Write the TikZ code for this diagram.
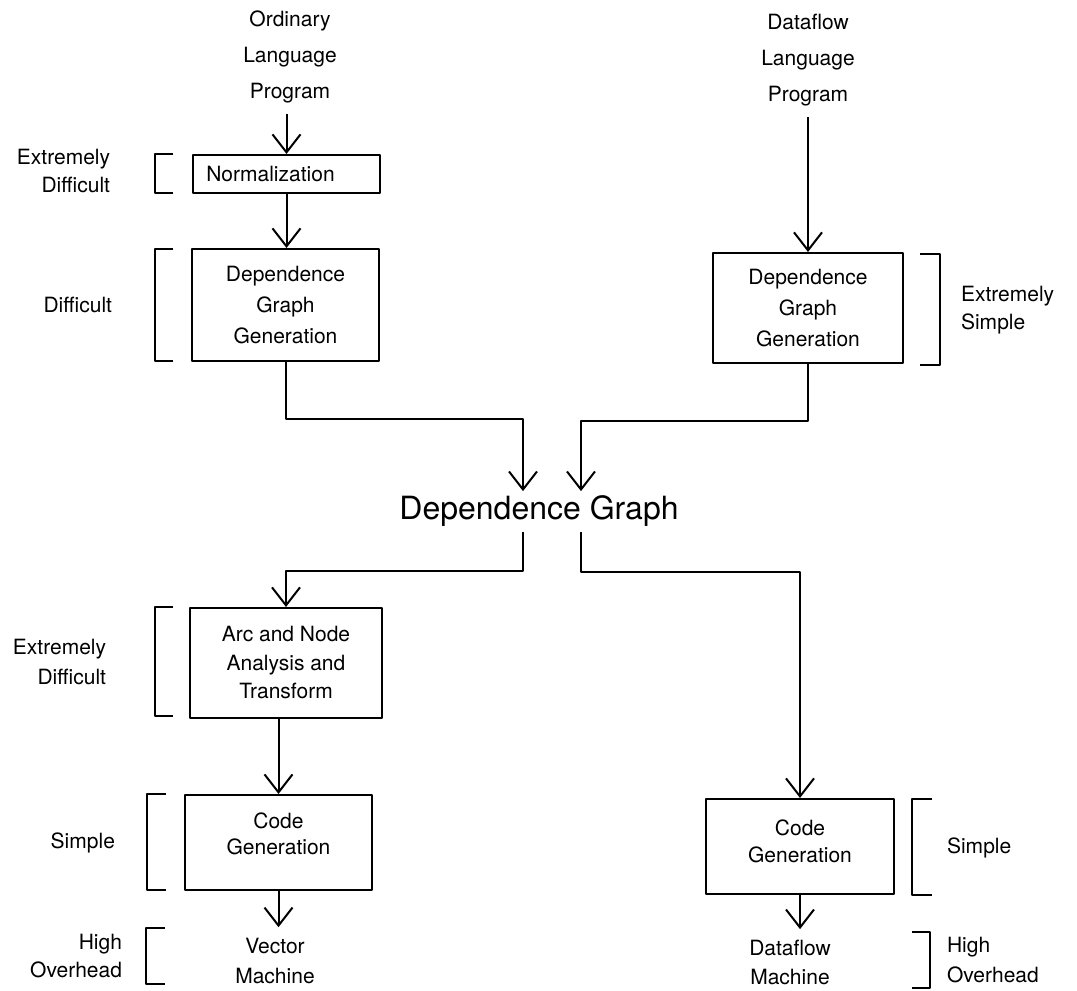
\documentclass[tikz,border=0pt]{standalone}
\usepackage{fontspec}
\setmainfont{TeX Gyre Heros}
\usetikzlibrary{arrows.meta}
\tikzset{
  stage/.style={draw,line width=1bp,align=center,inner sep=0pt,font=\fontsize{10.5bp}{15.5bp}\selectfont},
  plain/.style={align=center,inner sep=5bp,font=\fontsize{10.5bp}{18bp}\selectfont},
  remark/.style={inner sep=0pt,font=\fontsize{10.5bp}{14bp}\selectfont},
}
\begin{document}
\begin{tikzpicture}[>={Straight Barb[length=9bp,width=14bp]},line join=bevel,line width=1bp]
\useasboundingbox (0bp,0bp) rectangle (538.5bp,495.5bp);
%%
\node (src_ord) at (145bp,467bp) [plain] {Ordinary\\Language\\Program};
  \node (src_dat) at (404bp,465.5bp) [plain] {Dataflow\\Language\\Program};
  \node (norm) at (143.25bp,408.5bp) [stage,minimum width=93.5bp,minimum height=19bp] {Normalization\hspace*{16bp}};
  \node (dg_gen_l) at (142.75bp,343bp) [stage,minimum width=93.5bp,minimum height=56bp] {Dependence\\Graph\\Generation};
  \node (dg_gen_r) at (404bp,341.5bp) [stage,minimum width=95bp,minimum height=55bp] {Dependence\\Graph\\Generation};
  \node (dep_graph) at (269.5bp,235.5bp) [anchor=base,inner sep=2bp,font=\fontsize{16bp}{19bp}\selectfont] {Dependence Graph};
  \node (arc_node) at (143bp,164bp) [stage,minimum width=96bp,minimum height=55bp,font=\fontsize{10.5bp}{14.25bp}\selectfont] {Arc and Node\\Analysis and\\Transform};
  \node (code_l) at (139.25bp,74.25bp) [stage,minimum width=93.5bp,minimum height=47.5bp,text depth=8.5bp,font=\fontsize{10.5bp}{13bp}\selectfont] {Code\\Generation};
  \node (code_r) at (400bp,72.25bp) [stage,minimum width=94bp,minimum height=47.5bp,text depth=5bp,font=\fontsize{10.5bp}{13.5bp}\selectfont] {Code\\Generation};
  \node (mach_vec) at (137.5bp,15bp) [plain,font=\fontsize{10.5bp}{15bp}\selectfont] {Vector\\Machine};
  \node (mach_dat) at (395bp,14.25bp) [plain,font=\fontsize{10.5bp}{14.5bp}\selectfont] {Dataflow\\Machine};
%
  \draw [black,->] (src_ord.south -| norm.north) -- (norm.north);
  \draw [black,->] (norm.south) -- (norm.south |- dg_gen_l.north);
  \draw [black,->] (src_dat.south -| dg_gen_r.north) -- (dg_gen_r.north);
  \draw [black,->] (dg_gen_l.south) -- ++(0,-28.5bp) -| ([xshift=-8bp]dep_graph.north);
  \draw [black,->] (dg_gen_r.south) -- ++(0,-28.5bp) -| ([xshift=21bp]dep_graph.north);
  \draw [black,->] ([xshift=-8bp]dep_graph.south) -- ++(0,-19.5bp) -| (arc_node.north);
  \draw [black,->] ([xshift=21bp]dep_graph.south) -- ++(0,-20bp) -| (code_r.north);
  \draw [black,->] (arc_node.south -| code_l.north) -- (code_l.north);
  \draw [black,->] (code_l.south) -- (code_l.south |- mach_vec.north);
  \draw [black,->] (code_r.south) -- (code_r.south |- mach_dat.north);
%
\node (rem_norm) at (55.5bp,410bp) [remark,anchor=east,align=right] {Extremely\\Difficult};
  \node (rem_gen_l) at (56.5bp,343bp) [remark,anchor=east] {Difficult};
  \node (rem_gen_r) at (480bp,340.5bp) [remark,anchor=west,align=left] {Extremely\\Simple};
  \node (rem_arc) at (53.5bp,164.5bp) [remark,anchor=east,align=right,font=\fontsize{10.5bp}{15bp}\selectfont] {Extremely\\Difficult};
  \node (rem_code_l) at (58bp,74bp) [remark,anchor=east] {Simple};
  \node (rem_code_r) at (473bp,71.5bp) [remark,anchor=west] {Simple};
  \node (rem_vec) at (61.5bp,17.5bp) [remark,anchor=east,align=right] {High\\Overhead};
  \node (rem_dat) at (473bp,15.5bp) [remark,anchor=west,align=left,font=\fontsize{10.5bp}{15bp}\selectfont] {High\\Overhead};
%
  \draw (86.5bp,418.5bp) -| (77.5bp,399bp) -- (86.5bp,399bp);
  \draw (86.5bp,371bp) -| (77.5bp,315bp) -- (86.5bp,315bp);
  \draw (460bp,368.5bp) -| (470bp,313bp) -- (460bp,313bp);
  \draw (86.5bp,192bp) -| (77.5bp,137.5bp) -- (86.5bp,137.5bp);
  \draw (83bp,98.5bp) -| (73.5bp,50.5bp) -- (83bp,50.5bp);
  \draw (466bp,96bp) -| (456bp,48bp) -- (466bp,48bp);
  \draw (82.5bp,31.5bp) -| (73bp,3.5bp) -- (82.5bp,3.5bp);
  \draw (456bp,29.5bp) -| (465bp,1.5bp) -- (456bp,1.5bp);
%
\end{tikzpicture}
\end{document}
